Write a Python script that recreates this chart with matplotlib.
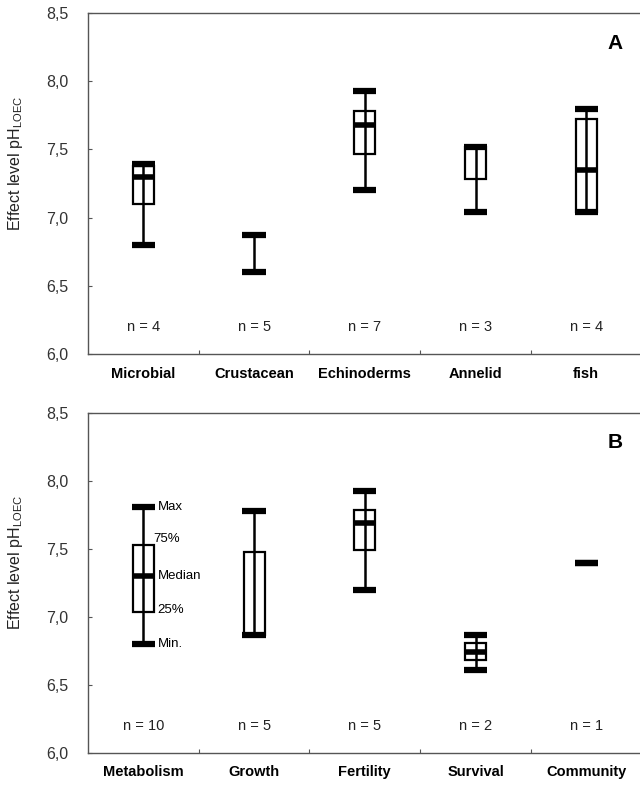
#!/usr/bin/env python3

"""
Effect level pH (LOEC) by taxon and by endpoint, drawn as min/25%/median/75%/max glyphs.
"""

import matplotlib
matplotlib.use("Agg")
import matplotlib.pyplot as plt
import numpy as np
from matplotlib.ticker import FuncFormatter

plt.rcParams["font.family"] = ["Liberation Sans", "DejaVu Sans"]

nan = np.nan

# Panel A: taxa
taxa = ["Microbial", "Crustacean", "Echinoderms", "Annelid", "fish"]
taxa_min = [6.80, 6.60, 7.20, 7.04, 7.04]
taxa_q1 = [7.10, nan, 7.47, 7.28, 7.04]
taxa_median = [7.30, nan, 7.68, 7.52, 7.35]
taxa_q3 = [7.38, nan, 7.78, 7.52, 7.72]
taxa_max = [7.39, 6.87, 7.93, 7.52, 7.80]
taxa_n = [4, 5, 7, 3, 4]

# Panel B: endpoints
endpoints = ["Metabolism", "Growth", "Fertility", "Survival", "Community"]
end_min = [6.80, 6.87, 7.20, 6.61, 7.40]
end_q1 = [7.04, 6.87, 7.49, 6.68, nan]
end_median = [7.30, 6.87, 7.69, 6.74, nan]
end_q3 = [7.53, 7.48, 7.79, 6.81, nan]
end_max = [7.81, 7.78, 7.93, 6.87, 7.40]
end_n = [10, 5, 5, 2, 1]

GREY = "#555555"


def _draw_panel(ax, labels, vmin, q1, med, q3, vmax, counts, letter):
    x = np.arange(len(labels))

    for i in x:
        if vmax[i] > vmin[i]:
            ax.vlines(i, vmin[i], vmax[i], color="black", linewidth=1.8, zorder=3)
        if not np.isnan(q1[i]):
            ax.bar(i, q3[i] - q1[i], bottom=q1[i], width=0.19, fill=False,
                   edgecolor="black", linewidth=1.6, zorder=2)
        if not np.isnan(med[i]):
            ax.hlines(med[i], i - 0.105, i + 0.105, color="black", linewidth=4, zorder=4)
        ax.hlines([vmin[i], vmax[i]], i - 0.105, i + 0.105, color="black",
                  linewidth=4.5, zorder=4)
        ax.text(i, 6.2, f"n = {counts[i]}", ha="center", va="center",
                fontsize=10.5, color="#222222")

    ax.text(4.26, 8.28, letter, ha="center", va="center", fontsize=15,
            fontweight="bold")

    ax.set_xlim(-0.5, len(labels) - 0.5)
    ax.set_ylim(6.0, 8.5)
    ax.set_xticks(x)
    ax.set_xticklabels(labels, fontweight="bold", fontsize=10.5)
    ax.set_xticks(x[:-1] + 0.5, minor=True)
    ax.tick_params(axis="x", which="major", length=0, pad=9)
    ax.tick_params(axis="x", which="minor", direction="in", length=3,
                   color=GREY, width=0.8)

    ax.set_yticks(np.arange(6.0, 8.51, 0.5))
    ax.yaxis.set_major_formatter(FuncFormatter(lambda v, _: f"{v:.1f}".replace(".", ",")))
    ax.tick_params(axis="y", direction="in", length=3, color=GREY, width=0.8,
                   pad=14, labelsize=11.5, labelcolor="#333333")

    ax.set_ylabel("Effect level pH$_\\mathregular{LOEC}$", fontsize=11.5,
                  color="#222222")
    ax.yaxis.set_label_coords(-0.114, 0.56)

    ax.spines["right"].set_visible(False)
    for side in ("left", "top", "bottom"):
        ax.spines[side].set_color(GREY)
        ax.spines[side].set_linewidth(1.0)


fig = plt.figure(figsize=(6.4, 7.85), dpi=100)
ax_a = fig.add_axes([0.1375, 0.549, 0.865, 0.4344])
ax_b = fig.add_axes([0.1375, 0.0408, 0.865, 0.4331])

_draw_panel(ax_a, taxa, taxa_min, taxa_q1, taxa_median, taxa_q3, taxa_max, taxa_n, "A")
_draw_panel(ax_b, endpoints, end_min, end_q1, end_median, end_q3, end_max, end_n, "B")

# Legend-like labels on the first glyph of panel B
ann_x = 0.13
ax_b.text(ann_x, end_max[0], "Max", ha="left", va="center", fontsize=9.5)
ax_b.text(ann_x - 0.04, end_q3[0] + 0.045, "75%", ha="left", va="center", fontsize=9.5)
ax_b.text(ann_x, end_median[0], "Median", ha="left", va="center", fontsize=9.5)
ax_b.text(ann_x, end_q1[0] + 0.01, "25%", ha="left", va="center", fontsize=9.5)
ax_b.text(ann_x, end_min[0], "Min.", ha="left", va="center", fontsize=9.5)

fig.savefig("out.png", dpi=100)
